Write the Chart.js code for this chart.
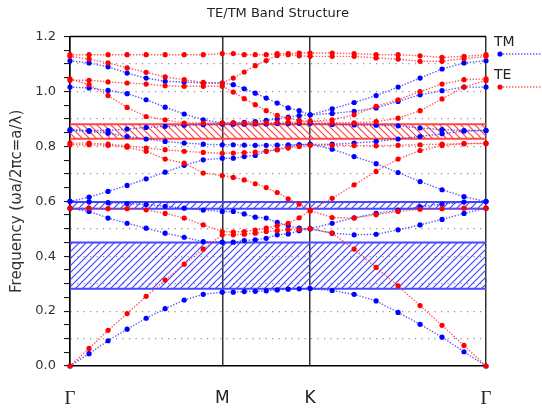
<!DOCTYPE html>
<html>
<head>
<meta charset="utf-8">
<script src="https://cdn.jsdelivr.net/npm/chart.js@4.4.0/dist/chart.umd.min.js"></script>
<style>
  body { margin: 0; background: #fff; }
  #wrap { width: 542px; height: 408px; }
</style>
</head>
<body>
<div id="wrap"><canvas id="bands" width="542" height="408"></canvas></div>
<script>
// k-path distance of each computed k-point (Γ -> M -> K -> Γ)
var kDist = [0, 0.0722, 0.1443, 0.2165, 0.2887, 0.3608, 0.4330, 0.5052, 0.5774,
             0.6190, 0.6607, 0.7024, 0.7440, 0.7857, 0.8274, 0.8690, 0.9107,
             0.9940, 1.0774, 1.1607, 1.2440, 1.3274, 1.4107, 1.4940, 1.5774];
var symPos = [0, 0.5774, 0.9107, 1.5774];
var symNames = ['Γ', 'M', 'K', 'Γ'];

// TM bands (blue)
var tm1 = [0, 0.045, 0.092, 0.134, 0.174, 0.209, 0.240, 0.261, 0.269, 0.269, 0.271, 0.272, 0.274, 0.277, 0.280, 0.281, 0.282, 0.275, 0.261, 0.237, 0.195, 0.152, 0.105, 0.052, 0];
var tm2 = [0.575, 0.563, 0.539, 0.520, 0.502, 0.484, 0.469, 0.453, 0.451, 0.451, 0.457, 0.460, 0.465, 0.478, 0.481, 0.493, 0.500, 0.484, 0.478, 0.480, 0.496, 0.514, 0.534, 0.556, 0.575];
var tm3 = [0.600, 0.598, 0.595, 0.592, 0.588, 0.582, 0.575, 0.568, 0.563, 0.563, 0.554, 0.542, 0.539, 0.523, 0.511, 0.502, 0.500, 0.520, 0.540, 0.556, 0.568, 0.580, 0.590, 0.597, 0.600];
var tm4 = [0.600, 0.615, 0.636, 0.658, 0.682, 0.706, 0.731, 0.751, 0.757, 0.757, 0.763, 0.767, 0.782, 0.788, 0.800, 0.806, 0.808, 0.790, 0.763, 0.737, 0.705, 0.672, 0.642, 0.617, 0.599];
var tm5 = [0.858, 0.855, 0.848, 0.836, 0.827, 0.818, 0.812, 0.808, 0.806, 0.806, 0.805, 0.804, 0.804, 0.805, 0.806, 0.806, 0.807, 0.808, 0.812, 0.818, 0.827, 0.836, 0.846, 0.856, 0.858];
var tm6 = [0.861, 0.858, 0.858, 0.863, 0.869, 0.873, 0.877, 0.879, 0.881, 0.881, 0.881, 0.882, 0.882, 0.883, 0.883, 0.884, 0.884, 0.880, 0.878, 0.877, 0.875, 0.867, 0.861, 0.858, 0.858];
var tm7 = [1.112, 1.104, 1.090, 1.067, 1.049, 1.037, 1.035, 1.031, 1.031, 1.025, 1.010, 0.994, 0.976, 0.958, 0.940, 0.930, 0.915, 0.937, 0.960, 0.985, 1.016, 1.049, 1.082, 1.104, 1.112];
var tm8 = [1.016, 1.013, 1.004, 0.992, 0.970, 0.943, 0.918, 0.897, 0.885, 0.886, 0.888, 0.890, 0.895, 0.900, 0.907, 0.912, 0.915, 0.920, 0.928, 0.940, 0.964, 0.988, 1.003, 1.016, 1.016];

// TE bands (red)
var te1 = [0, 0.064, 0.130, 0.191, 0.254, 0.313, 0.371, 0.426, 0.478, 0.478, 0.480, 0.484, 0.490, 0.493, 0.496, 0.498, 0.500, 0.484, 0.426, 0.359, 0.292, 0.220, 0.148, 0.075, 0];
var te2 = [0.575, 0.575, 0.573, 0.573, 0.569, 0.556, 0.539, 0.514, 0.490, 0.488, 0.490, 0.495, 0.502, 0.511, 0.520, 0.540, 0.566, 0.541, 0.539, 0.551, 0.563, 0.571, 0.573, 0.575, 0.575];
var te3 = [0.806, 0.806, 0.804, 0.797, 0.782, 0.754, 0.739, 0.703, 0.694, 0.687, 0.678, 0.664, 0.650, 0.632, 0.609, 0.590, 0.566, 0.611, 0.660, 0.709, 0.754, 0.785, 0.803, 0.810, 0.810];
var te4 = [0.812, 0.812, 0.808, 0.802, 0.794, 0.788, 0.782, 0.778, 0.775, 0.776, 0.777, 0.779, 0.783, 0.788, 0.794, 0.800, 0.804, 0.804, 0.803, 0.802, 0.804, 0.806, 0.808, 0.810, 0.812];
var te5 = [1.046, 1.025, 0.985, 0.942, 0.909, 0.897, 0.885, 0.885, 0.885, 0.886, 0.885, 0.885, 0.886, 0.887, 0.888, 0.889, 0.891, 0.886, 0.886, 0.890, 0.903, 0.930, 0.973, 1.016, 1.040];
var te6 = [1.041, 1.041, 1.035, 1.031, 1.027, 1.021, 1.019, 1.019, 1.019, 0.998, 0.974, 0.952, 0.930, 0.913, 0.903, 0.895, 0.891, 0.897, 0.915, 0.946, 0.970, 1.000, 1.027, 1.043, 1.046];
var te7 = [1.128, 1.118, 1.104, 1.086, 1.070, 1.053, 1.043, 1.033, 1.031, 1.049, 1.071, 1.094, 1.113, 1.131, 1.134, 1.130, 1.128, 1.128, 1.128, 1.122, 1.118, 1.110, 1.110, 1.120, 1.128];
var te8 = [1.134, 1.134, 1.134, 1.134, 1.134, 1.134, 1.134, 1.134, 1.138, 1.138, 1.134, 1.134, 1.134, 1.138, 1.138, 1.140, 1.140, 1.140, 1.138, 1.134, 1.134, 1.130, 1.124, 1.128, 1.134];

// band gaps (lower / upper edge)
var tmGapLo = [0.281, 0.573];
var tmGapHi = [0.450, 0.597];
var teGapLo = [0.828];
var teGapHi = [0.881];

var tmBands = [tm1, tm2, tm3, tm4, tm5, tm6, tm7, tm8];
var teBands = [te1, te2, te3, te4, te5, te6, te7, te8];

var redLine = 'rgba(255, 50, 50, 0.8)';
var blueLine = 'rgba(50, 50, 255, 0.8)';

function hatch(color, forward) {
    var p = 7;
    var c = document.createElement('canvas');
    c.width = p; c.height = p;
    var g = c.getContext('2d');
    g.strokeStyle = color;
    g.lineWidth = 1.2;
    g.beginPath();
    if (forward) {
        g.moveTo(-1, p + 1); g.lineTo(p + 1, -1);
        g.moveTo(-1, 1); g.lineTo(1, -1);
        g.moveTo(p - 1, p + 1); g.lineTo(p + 1, p - 1);
    } else {
        g.moveTo(-1, -1); g.lineTo(p + 1, p + 1);
        g.moveTo(p - 1, -1); g.lineTo(p + 1, 1);
        g.moveTo(-1, p - 1); g.lineTo(1, p + 1);
    }
    g.stroke();
    return g.createPattern(c, 'repeat');
}

function toPoints(band) {
    return band.map(function(f, i) { return { x: kDist[i], y: f }; });
}

var datasets = [];
teBands.forEach(function(b, i) {
    datasets.push({
        label: 'TE' + (i + 1), data: toPoints(b),
        borderColor: redLine, borderWidth: 1.4, borderDash: [1.4, 1.6],
        pointRadius: 2.6, pointBorderWidth: 0, pointBackgroundColor: '#ff0000',
        clip: false, order: 0
    });
});
tmBands.forEach(function(b, i) {
    datasets.push({
        label: 'TM' + (i + 1), data: toPoints(b),
        borderColor: blueLine, borderWidth: 1.4, borderDash: [1.4, 1.6],
        pointRadius: 2.6, pointBorderWidth: 0, pointBackgroundColor: '#0000ff',
        clip: false, order: 0
    });
});

function addGap(lo, hi, edge, pattern) {
    var x0 = symPos[0], x1 = symPos[symPos.length - 1];
    datasets.push({
        label: 'gapLo', data: [{ x: x0, y: lo }, { x: x1, y: lo }],
        borderColor: edge, borderWidth: 2, pointRadius: 0, fill: false, order: 5
    });
    datasets.push({
        label: 'gapHi', data: [{ x: x0, y: hi }, { x: x1, y: hi }],
        borderColor: edge, borderWidth: 2, pointRadius: 0,
        fill: '-1', backgroundColor: pattern, order: 5
    });
}
var ctx = document.getElementById('bands').getContext('2d');
tmGapLo.forEach(function(lo, i) { addGap(lo, tmGapHi[i], '#4646ff', hatch('#4646ff', true)); });
teGapLo.forEach(function(lo, i) { addGap(lo, teGapHi[i], '#ff4646', hatch('#ff4646', false)); });

// top border of the plot box
var frame = {
    id: 'frame',
    beforeDatasetsDraw: function(chart) {
        var a = chart.chartArea, c = chart.ctx;
        c.save();
        c.strokeStyle = '#000';
        c.lineWidth = 1.5;
        c.beginPath();
        c.moveTo(a.left, a.top);
        c.lineTo(a.right, a.top);
        c.stroke();
        c.restore();
    }
};

// TM / TE key on the right
var sideKey = {
    id: 'sideKey',
    afterDraw: function(chart) {
        var a = chart.chartArea, c = chart.ctx;
        var items = [['TM', '#0000ff', blueLine, 42, 54],
                     ['TE', '#ff0000', redLine, 75, 87]];
        c.save();
        items.forEach(function(it) {
            c.fillStyle = '#222';
            c.font = '14px "DejaVu Sans"';
            c.textBaseline = 'middle';
            c.textAlign = 'left';
            c.fillText(it[0], a.right + 8, it[3]);
            c.strokeStyle = it[2];
            c.lineWidth = 1.4;
            c.setLineDash([1.4, 1.6]);
            c.beginPath();
            c.moveTo(a.right + 14, it[4]);
            c.lineTo(chart.width, it[4]);
            c.stroke();
            c.fillStyle = it[1];
            c.beginPath();
            c.arc(a.right + 14, it[4], 2.6, 0, Math.PI * 2);
            c.fill();
        });
        c.restore();
    }
};

new Chart(ctx, {
    type: 'line',
    data: { datasets: datasets },
    plugins: [frame, sideKey],
    options: {
        responsive: false,
        animation: false,
        devicePixelRatio: 1,
        layout: { padding: { top: 0, right: 56, bottom: 0, left: 0 } },
        plugins: {
            legend: { display: false },
            tooltip: { enabled: false },
            title: {
                display: true, text: 'TE/TM Band Structure', fullSize: false,
                color: '#222', font: { family: 'DejaVu Sans', size: 13, weight: 'normal' },
                padding: { top: 6, bottom: 15 }
            }
        },
        scales: {
            x: {
                type: 'linear', min: 0, max: symPos[symPos.length - 1],
                afterBuildTicks: function(scale) {
                    scale.ticks = symPos.map(function(v) { return { value: v }; });
                },
                afterFit: function(scale) { scale.height = 42; },
                ticks: {
                    autoSkip: false, maxRotation: 0, padding: 22, color: '#222',
                    font: function(c) {
                        return (c.index === 0 || c.index === 3)
                            ? { family: 'Liberation Serif', size: 19 }
                            : { family: 'DejaVu Sans', size: 17 };
                    },
                    callback: function(v, i) { return symNames[i]; }
                },
                grid: { color: '#333', lineWidth: 1.5, drawTicks: false },
                border: { color: '#000', width: 1.5 }
            },
            y: {
                min: 0, max: 1.2,
                afterFit: function(scale) { scale.width = 70; },
                ticks: {
                    stepSize: 0.05, autoSkip: false, padding: 8, color: '#333',
                    font: { family: 'DejaVu Sans', size: 13 },
                    callback: function(v) {
                        var r = Math.round(v * 20);
                        return r % 4 === 0 ? (r / 20).toFixed(1) : '';
                    }
                },
                grid: {
                    color: function(c) {
                        var r = Math.round(c.tick.value * 20);
                        return (r % 2 === 0 && r > 0 && r < 24) ? '#8f8f8f' : 'rgba(0,0,0,0)';
                    },
                    lineWidth: 1.2, tickColor: '#000', tickLength: 6, tickWidth: 1
                },
                border: { color: '#000', width: 1.5, dash: [1.2, 5.3] },
                title: {
                    display: true, text: 'Frequency (ωa/2πc=a/λ)', color: '#333',
                    font: { family: 'DejaVu Sans', size: 15 },
                    padding: { top: 8, bottom: 0 }
                }
            }
        }
    }
});
</script>
</body>
</html>
